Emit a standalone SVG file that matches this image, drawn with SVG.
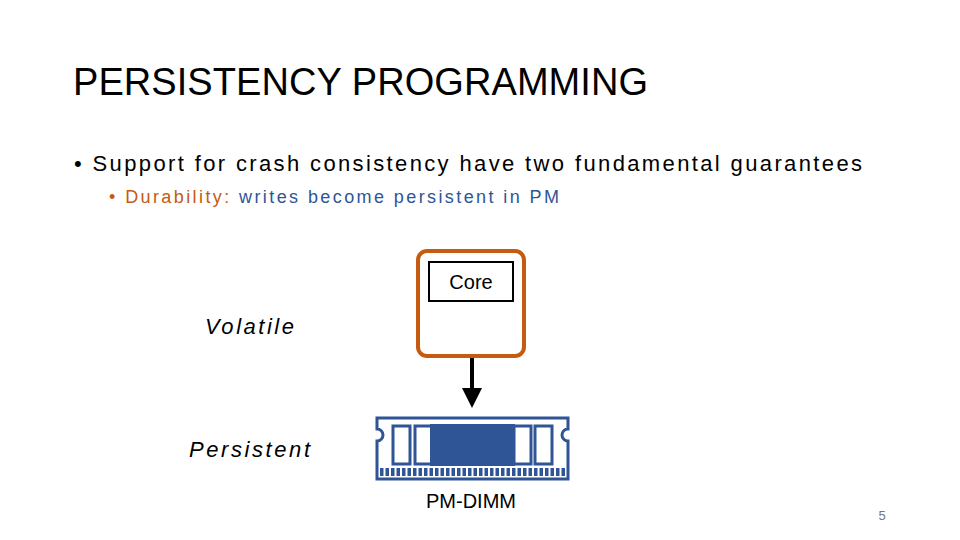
<svg xmlns="http://www.w3.org/2000/svg" width="960" height="540" viewBox="0 0 960 540">
<style>
.t{font-family:"Liberation Sans",Arial,sans-serif}
.d{fill:none;stroke:#2f5597;stroke-width:3}
</style>
<defs><marker id="ah" markerWidth="5" markerHeight="5" refX="4" refY="2.5" orient="auto" markerUnits="strokeWidth"><path d="M0,0L5,2.5L0,5Z" fill="#000"/></marker></defs>
<rect width="960" height="540" fill="#fff"/>
<text class="t" x="73" y="95" font-size="38" fill="#000" textLength="575">PERSISTENCY PROGRAMMING</text>
<text class="t" x="74" y="171" font-size="22" fill="#000" textLength="788">• Support for crash consistency have two fundamental guarantees</text>
<text class="t" x="109" y="203" font-size="18" textLength="450"><tspan fill="#c55a11">•  Durability: </tspan><tspan fill="#2f5597">writes become persistent in PM</tspan></text>
<text class="t" x="205" y="334" font-size="22" font-style="italic" textLength="89">Volatile</text>
<text class="t" x="189" y="457" font-size="22" font-style="italic" textLength="121">Persistent</text>
<g id="cpu"><rect x="418" y="251" width="106" height="105" rx="9" fill="#fff" stroke="#c55a11" stroke-width="4"/></g>
<g id="core"><rect x="429" y="262" width="84" height="39" fill="#fff" stroke="#000" stroke-width="2"/><text class="t" x="471" y="289" font-size="20" text-anchor="middle">Core</text></g>
<g id="connectors"><line x1="472" y1="358" x2="472" y2="404" stroke="#000" stroke-width="4" marker-end="url(#ah)"/></g>
<g id="dimm">
<path class="d" d="M377,418H568V429A5,5 0 0 0 568,441V479H377V441A5,5 0 0 0 377,429Z"/>
<rect x="393" y="426" width="17" height="38" class="d" stroke-width="2.5"/>
<rect x="415" y="426" width="17" height="38" class="d" stroke-width="2.5"/>
<rect x="514" y="426" width="17" height="38" class="d" stroke-width="2.5"/>
<rect x="535" y="426" width="17" height="38" class="d" stroke-width="2.5"/>
<rect x="430" y="424" width="85" height="42" fill="#2f5597"/>
<line x1="380" y1="472" x2="566" y2="472" stroke="#2f5597" stroke-width="8" stroke-dasharray="3.5 2"/>
<text class="t" x="471" y="508" font-size="20" text-anchor="middle">PM-DIMM</text>
</g>
<text x="882" y="520" font-family="Liberation Sans,sans-serif" font-size="13" fill="#777" text-anchor="middle">5</text>
</svg>
